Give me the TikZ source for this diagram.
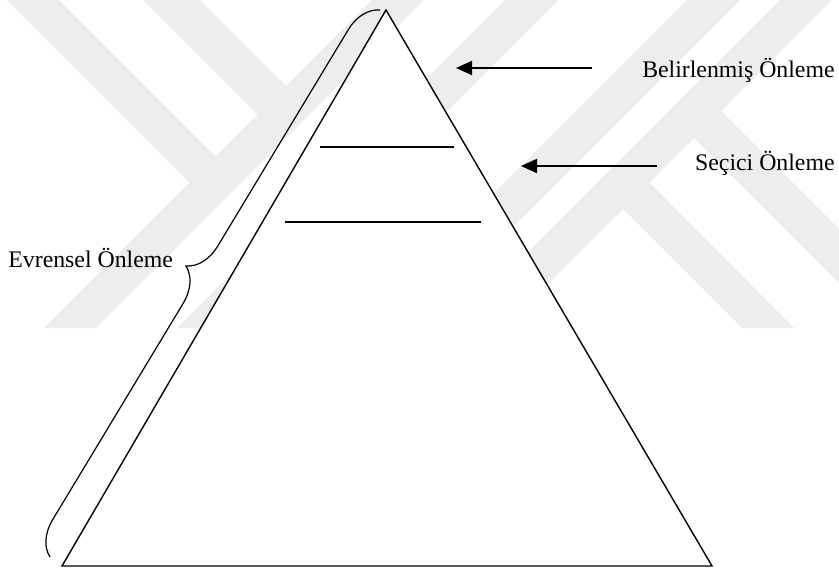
\documentclass[tikz,border=0pt]{standalone}
\usepackage{fontspec}
\setmainfont{Liberation Serif}
\usetikzlibrary{arrows.meta,decorations.pathreplacing}

\definecolor{wmgray}{RGB}{237,237,237}

\tikzset{
  wmband/.style={fill=wmgray, draw=none},
  pyrline/.style={line width=0.7pt},
  levelline/.style={line width=0.9pt},
  labeltext/.style={inner sep=0pt, font=\fontsize{11.9}{14}\selectfont},
  pointer/.style={line width=1pt, -{Triangle[length=8pt,width=7pt]}},
  curly/.style={line width=0.6pt, decorate, decoration={brace, amplitude=17pt, aspect=0.5}}
}

\begin{document}
\begin{tikzpicture}[x=0.5pt, y=-0.5pt]
    \useasboundingbox (0,0) rectangle (839,568);

    % Watermark bands
    \fill[wmband] (372,0) -- (424,0) -- (96,328) -- (44,328) -- cycle;
    \fill[wmband] (505,0) -- (558,0) -- (230,328) -- (177,328) -- cycle;
    \fill[wmband] (687,0) -- (740,0) -- (412,328) -- (359,328) -- cycle;
    \fill[wmband] (780,0) -- (832,0) -- (504,328) -- (452,328) -- cycle;
    \fill[wmband] (7,0) -- (59,0) -- (216,157) -- (190,183) -- cycle;
    \fill[wmband] (143,0) -- (200,0) -- (286,86) -- (258,115) -- cycle;
    \fill[wmband] (597,183) -- (624,157) -- (794,328) -- (742,328) -- cycle;
    \fill[wmband] (668,112) -- (695,85) -- (839,229) -- (839,283) -- cycle;

    % Pyramid
    \coordinate (apex) at (386,10);
    \coordinate (baseL) at (62,566);
    \coordinate (baseR) at (712,566);
    \filldraw[pyrline, fill=white] (apex) -- (baseL) -- (baseR) -- cycle;

    % Level lines
    \coordinate (l1a) at (320,147);
    \coordinate (l1b) at (454,147);
    \coordinate (l2a) at (285,222);
    \coordinate (l2b) at (481,222);
    \draw[levelline] (l1a) -- (l1b);
    \draw[levelline] (l2a) -- (l2b);

    % Labels
    \node (belirli) [labeltext, anchor=east] at (835,70) {Belirlenmiş Önleme};
    \node (secici) [labeltext, anchor=east] at (835,163) {Seçici Önleme};
    \node (evrensel) [labeltext, anchor=west] at (8,258) {Evrensel Önleme};

    % Arrows
    \coordinate (tipA) at (456,68);
    \coordinate (tailA) at (592,68);
    \coordinate (tipB) at (521,166);
    \coordinate (tailB) at (657,166);
    \draw[pointer] (tailA) -- (tipA);
    \draw[pointer] (tailB) -- (tipB);

    % Brace
    \coordinate (braceBot) at (50,557);
    \coordinate (braceTop) at (380,10);
    \draw[curly] (braceBot) -- (braceTop);
\end{tikzpicture}
\end{document}
